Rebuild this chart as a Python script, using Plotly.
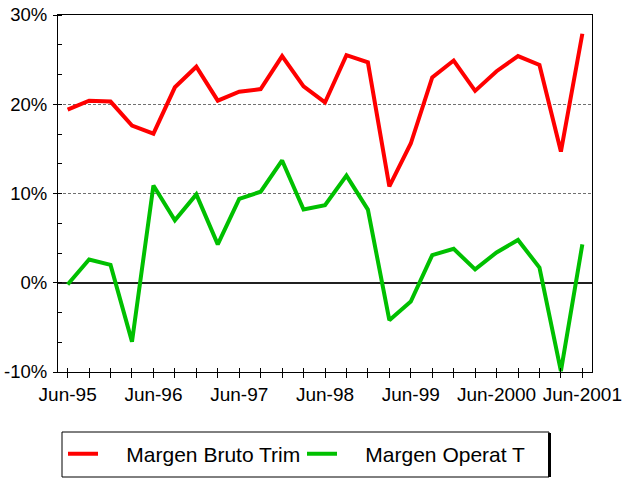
import plotly.graph_objects as go

quarters = ["Jun-95", "Sep-95", "Dec-95", "Mar-96",
            "Jun-96", "Sep-96", "Dec-96", "Mar-97",
            "Jun-97", "Sep-97", "Dec-97", "Mar-98",
            "Jun-98", "Sep-98", "Dec-98", "Mar-99",
            "Jun-99", "Sep-99", "Dec-99", "Mar-2000",
            "Jun-2000", "Sep-2000", "Dec-2000", "Mar-2001",
            "Jun-2001"]

margen_bruto = [19.4, 20.4, 20.3, 17.6, 16.7, 21.9, 24.2, 20.4, 21.4, 21.7,
                25.4, 22.0, 20.2, 25.5, 24.7, 10.8, 15.6, 23.0, 24.9, 21.5,
                23.7, 25.4, 24.4, 14.7, 27.9]
margen_operat = [-0.2, 2.6, 2.0, -6.6, 10.9, 7.0, 9.9, 4.3, 9.4, 10.2,
                 13.7, 8.2, 8.7, 12.0, 8.2, -4.2, -2.1, 3.1, 3.8, 1.5,
                 3.4, 4.8, 1.7, -9.9, 4.3]

y_ticks = [-10, 0, 10, 20, 30]
x_labels = [q if q.startswith("Jun") else "" for q in quarters]

FONT = "Liberation Sans, Arial, sans-serif"
NB = "\u00a0"

fig = go.Figure()
fig.add_trace(go.Scatter(x=quarters, y=margen_bruto, mode="lines",
                         name=NB * 4 + "Margen Bruto Trim",
                         line=dict(color="#ff0000", width=4)))
fig.add_trace(go.Scatter(x=quarters, y=margen_operat, mode="lines",
                         name=NB * 4 + "Margen Operat T",
                         line=dict(color="#00c000", width=4)))
# invisible helper trace so the overlay axis (inner tick halves) is drawn
fig.add_trace(go.Scatter(x=quarters, y=margen_bruto, mode="none",
                         xaxis="x2", showlegend=False, hoverinfo="skip"))

W, H = 622, 478
L, R, T, B = 58, 30, 15, 106
pw, ph = W - L - R, H - T - B

def px_x(v):
    return (v - L) / pw

def px_y(v):
    return (H - B - v) / ph

xrange = [-0.45, len(quarters) - 1 + 0.45]

fig.update_layout(
    width=W, height=H,
    margin=dict(l=L, r=R, t=T, b=B, autoexpand=False),
    paper_bgcolor="white", plot_bgcolor="white",
    font=dict(family=FONT, color="black"),
    showlegend=True,
    legend=dict(orientation="h", x=px_x(63), xanchor="left",
                y=px_y(454), yanchor="middle",
                font=dict(size=21, family=FONT, color="black"),
                bgcolor="rgba(0,0,0,0)", borderwidth=0,
                entrywidth=194, entrywidthmode="pixels"),
    xaxis=dict(type="category", range=xrange,
               tickmode="array", tickvals=quarters, ticktext=x_labels,
               ticks="outside", ticklen=5, tickcolor="black", tickwidth=1,
               showline=True, linecolor="black", linewidth=1, mirror=True,
               showgrid=False, tickfont=dict(size=19, family=FONT),
               tickangle=0, ticklabeloverflow="allow"),
    xaxis2=dict(type="category", range=xrange, overlaying="x", anchor="y",
                side="bottom", matches="x",
                tickmode="array", tickvals=quarters, showticklabels=False,
                ticks="inside", ticklen=4, tickcolor="black", tickwidth=1,
                showline=False, showgrid=False, zeroline=False),
    yaxis=dict(range=[-10, 30], tickmode="array", tickvals=y_ticks,
               ticktext=[f"{v}%" for v in y_ticks],
               ticks="outside", ticklen=4, tickcolor="black",
               showline=True, linecolor="black", linewidth=1, mirror=True,
               showgrid=True, gridcolor="#707070", griddash="3px,2px", gridwidth=1,
               zeroline=True, zerolinecolor="#202020", zerolinewidth=1.5,
               tickfont=dict(size=18.5, family=FONT), ticklabelstandoff=2,
               ticklabeloverflow="allow",
               minor=dict(dtick=10 / 3, tick0=0, ticks="inside", ticklen=4,
                          tickcolor="black", showgrid=False)),
)

# legend frame with shadow on right
fig.add_shape(type="rect", xref="paper", yref="paper",
              x0=px_x(62), x1=px_x(549), y0=px_y(477), y1=px_y(432),
              line=dict(color="black", width=1), fillcolor="rgba(0,0,0,0)")
fig.add_shape(type="line", xref="paper", yref="paper",
              x0=px_x(549.5), x1=px_x(549.5), y0=px_y(477), y1=px_y(433),
              line=dict(color="black", width=3))

fig.write_html("out.html", config={"displayModeBar": False},
               post_script="document.body.style.margin='0';"
                           "document.body.style.overflow='hidden';")
